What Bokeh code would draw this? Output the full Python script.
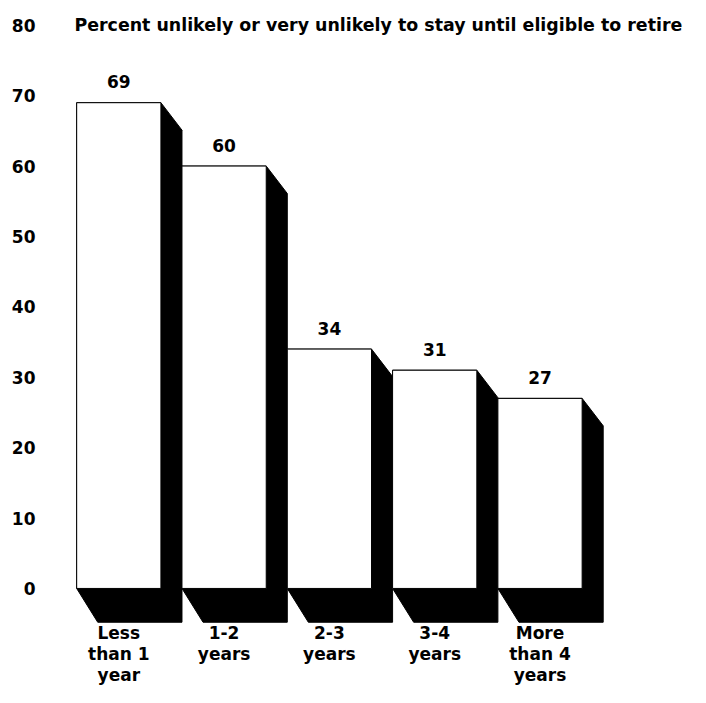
from bokeh.plotting import figure
from bokeh.models import FixedTicker, Range1d, Label, ColumnDataSource
from bokeh.embed import file_html
from bokeh.resources import INLINE
from bokeh.core.properties import value

# ---- data ----
categories = ["Less\nthan 1\nyear", "1-2\nyears", "2-3\nyears", "3-4\nyears", "More\nthan 4\nyears"]
percent = [69, 60, 34, 31, 27]
y_ticks = [0, 10, 20, 30, 40, 50, 60, 70, 80]
title_text = "Percent unlikely or very unlikely to stay until eligible to retire"

# ---- style ----
FONT = "DejaVu Sans"
BAR_W = 0.8
DX = 0.2        # depth to the right (x units)
DY_TOP = 3.9    # depth downward at top (y units)
DY_BOT = 4.8    # depth downward at floor (y units)

xs = list(range(len(percent)))
x0 = [x - BAR_W / 2 for x in xs]
x1 = [x + BAR_W / 2 for x in xs]

shadow_xs, shadow_ys = [], []
for a, b, v in zip(x0, x1, percent):
    shadow_xs.append([a, b, b + DX, b + DX, a + DX, a])
    shadow_ys.append([v, v, v - DY_TOP, -DY_BOT, -DY_BOT, 0])

shadow_src = ColumnDataSource(dict(xs=shadow_xs, ys=shadow_ys))
bar_src = ColumnDataSource(dict(left=x0, right=x1, top=percent, zero=[0] * len(xs),
                                x=xs, label=[str(v) for v in percent], cat=categories))

p = figure(width=690, height=687, output_backend="svg", toolbar_location=None,
           x_range=Range1d(-0.734, 5.429), y_range=Range1d(-14.07, 83.52),
           min_border_left=41, min_border_right=0, min_border_top=0,
           min_border_bottom=0)
p.background_fill_color = "white"
p.border_fill_color = "white"
p.outline_line_color = None
p.xgrid.visible = False
p.ygrid.visible = False
p.xaxis.visible = False

p.patches(xs="xs", ys="ys", source=shadow_src, fill_color="black", line_color="black")
p.quad(left="left", right="right", bottom="zero", top="top", source=bar_src,
       fill_color="white", line_color="black", line_width=1)

# value labels
p.text(x="x", y="top", text="label", source=bar_src, text_align="center",
       text_baseline="middle", y_offset=-21, text_font=value(FONT),
       text_font_style="bold", text_font_size="17px", text_color="black")

# category labels under each bar
p.text(x="x", y="zero", text="cat", source=bar_src, text_align="center",
       text_baseline="top", y_offset=35, text_font=value(FONT),
       text_font_style="bold", text_font_size="17px", text_line_height=1.03,
       text_color="black")

# y axis
p.yaxis.ticker = FixedTicker(ticks=y_ticks)
p.yaxis.axis_line_color = None
p.yaxis.major_tick_line_color = None
p.yaxis.minor_tick_line_color = None
p.yaxis.major_tick_out = 0
p.yaxis.major_tick_in = 0
p.yaxis.major_label_standoff = 6
p.yaxis.major_label_text_font = FONT
p.yaxis.major_label_text_font_style = "bold"
p.yaxis.major_label_text_font_size = "17px"
p.yaxis.major_label_text_color = "black"

title = Label(x=-0.421, y=80, text=title_text, text_baseline="middle",
              text_font=FONT, text_font_style="bold", text_font_size="17.4px",
              text_color="black")
p.add_layout(title)

open("out.html", "w").write(file_html(p, INLINE))
